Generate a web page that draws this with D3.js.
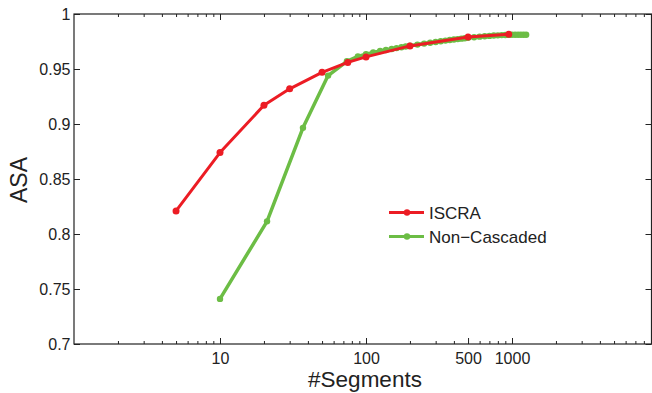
<!DOCTYPE html>
<html>
<head>
<meta charset="utf-8">
<script src="https://cdn.jsdelivr.net/npm/d3@7"></script>
<style>
  body { margin: 0; background: #fff; }
  svg { display: block; font-family: "Liberation Sans", Arial, sans-serif; }
  .axis path { display: none; }
  .axis line { stroke: #222; stroke-width: 1; }
  .axis text { fill: #222; font-size: 16px; }
</style>
</head>
<body>
<div id="chart"></div>
<script>
// ISCRA
var iscraX = [5, 10, 20, 30, 50, 75, 100, 200, 500, 950];
var iscraY = [0.821, 0.874, 0.917, 0.932, 0.947, 0.956, 0.961, 0.971, 0.979, 0.9815];

// Non-Cascaded
var nonCascX = [10, 21, 37, 55, 74, 88, 100, 112, 125, 137, 150, 162, 175, 187, 200,
    225, 250, 275, 300, 325, 350, 375, 400, 425, 450, 475, 500,
    550, 600, 650, 700, 750, 800, 850, 900, 950, 1000, 1050, 1100, 1150, 1200, 1250];
var nonCascY = [0.741, 0.8115, 0.8965, 0.944, 0.957, 0.9615, 0.9635, 0.965, 0.9663, 0.9673, 0.9682, 0.969, 0.9698, 0.9705, 0.9712,
    0.9722, 0.9731, 0.9739, 0.9746, 0.9752, 0.9758, 0.9763, 0.9768, 0.9772, 0.9776, 0.978, 0.9783,
    0.9789, 0.9794, 0.9798, 0.9801, 0.9804, 0.9806, 0.9808, 0.9809, 0.981, 0.9811, 0.9811, 0.9812, 0.9812, 0.9812, 0.9812];

var xTicks = [10, 100, 500, 1000];
var yTicks = [0.7, 0.75, 0.8, 0.85, 0.9, 0.95, 1];

(function () {
    "use strict";

    var red = "#ec1c24",
        green = "#6cbd45";

    var width = 652,
        height = 393,
        mLeft = 74,
        mRight = 651.5,
        mTop = 14,
        mBottom = 344;

    var x = d3.scaleLog().domain([1, 10000]).range([mLeft, mLeft + 4 * 146]);
    var y = d3.scaleLinear().domain([0.7, 1]).range([mBottom, mTop]);

    var svg = d3.select("#chart").append("svg")
        .attr("width", width)
        .attr("height", height);

    var minor = x.ticks().filter(function (d) {
        return xTicks.indexOf(d) < 0 && x(d) < mRight - 1 && d > 1;
    });

    // bottom axis
    svg.append("g").attr("class", "axis")
        .attr("transform", "translate(0," + mBottom + ")")
        .call(d3.axisBottom(x).tickValues(minor).tickSize(-3).tickFormat(""));
    svg.append("g").attr("class", "axis")
        .attr("transform", "translate(0," + mBottom + ")")
        .call(d3.axisBottom(x).tickValues(xTicks).tickSize(-6).tickPadding(9).tickFormat(d3.format("d")));

    // top axis
    svg.append("g").attr("class", "axis")
        .attr("transform", "translate(0," + mTop + ")")
        .call(d3.axisTop(x).tickValues(minor).tickSize(-3).tickFormat(""));
    svg.append("g").attr("class", "axis")
        .attr("transform", "translate(0," + mTop + ")")
        .call(d3.axisTop(x).tickValues(xTicks).tickSize(-6).tickFormat(""));

    // left / right axes
    svg.append("g").attr("class", "axis")
        .attr("transform", "translate(" + mLeft + ",0)")
        .call(d3.axisLeft(y).tickValues(yTicks).tickSize(-6).tickPadding(3.5).tickFormat(d3.format("~g")));
    svg.append("g").attr("class", "axis")
        .attr("transform", "translate(" + mRight + ",0)")
        .call(d3.axisRight(y).tickValues(yTicks).tickSize(-6).tickFormat(""));

    // frame
    svg.append("rect")
        .attr("x", mLeft).attr("y", mTop)
        .attr("width", mRight - mLeft).attr("height", mBottom - mTop)
        .attr("fill", "none").attr("stroke", "#222").attr("stroke-width", 1.2);

    // labels
    svg.append("text")
        .attr("x", 365).attr("y", 387)
        .attr("text-anchor", "middle")
        .attr("font-size", 22.5).attr("fill", "#222")
        .text("#Segments");
    svg.append("text")
        .attr("transform", "translate(26.5,180)rotate(-90)")
        .attr("text-anchor", "middle")
        .attr("font-size", 23).attr("fill", "#222")
        .text("ASA");

    var line = d3.line()
        .x(function (d) { return x(d[0]); })
        .y(function (d) { return y(d[1]); });

    function series(xs, ys, color, lw, r) {
        var pts = xs.map(function (v, i) { return [v, ys[i]]; });
        var g = svg.append("g");
        g.append("path").datum(pts)
            .attr("d", line)
            .attr("fill", "none")
            .attr("stroke", color)
            .attr("stroke-width", lw)
            .attr("stroke-linejoin", "round")
            .attr("stroke-linecap", "round");
        g.selectAll("circle").data(pts).enter().append("circle")
            .attr("cx", function (d) { return x(d[0]); })
            .attr("cy", function (d) { return y(d[1]); })
            .attr("r", r)
            .attr("fill", color);
    }

    series(nonCascX, nonCascY, green, 3.5, 3.2);
    series(iscraX, iscraY, red, 3, 3.5);

    // legend
    var legend = [
        { name: "ISCRA", color: red, yy: 212.5 },
        { name: "Non\u2212Cascaded", color: green, yy: 236.5 }
    ];
    var lg = svg.selectAll(".leg").data(legend).enter().append("g").attr("class", "leg");
    lg.append("line")
        .attr("x1", 389).attr("x2", 424)
        .attr("y1", function (d) { return d.yy; })
        .attr("y2", function (d) { return d.yy; })
        .attr("stroke", function (d) { return d.color; })
        .attr("stroke-width", 3);
    lg.append("circle")
        .attr("cx", 407).attr("cy", function (d) { return d.yy; })
        .attr("r", 3.2)
        .attr("fill", function (d) { return d.color; });
    lg.append("text")
        .attr("x", 429).attr("y", function (d) { return d.yy + 6; })
        .attr("font-size", 17).attr("fill", "#222")
        .text(function (d) { return d.name; });
})();
</script>
</body>
</html>
